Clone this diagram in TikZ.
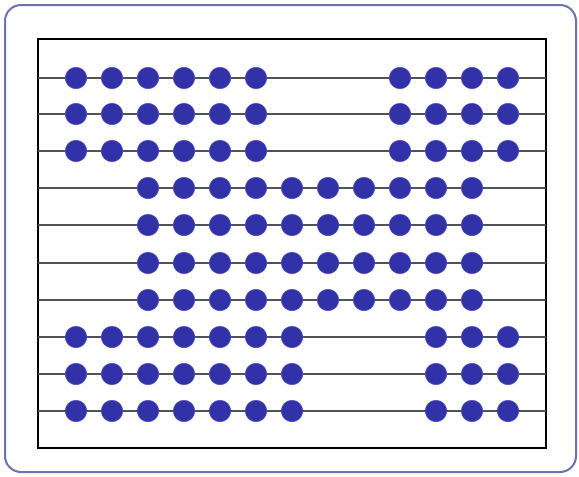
\documentclass[tikz,border=0pt]{standalone}
\definecolor{bead}{HTML}{3232A8}
\definecolor{frameblue}{HTML}{6A72B4}
\definecolor{wire}{HTML}{505058}
\tikzset{
  beadnode/.style={circle,fill=bead,draw=bead!85!white,line width=0.6pt,minimum size=21.5pt,inner sep=0pt},
  wireline/.style={draw=wire,line width=1.2pt},
  outerframe/.style={draw=frameblue,line width=2pt,rounded corners=16pt},
  innerframe/.style={draw=black,line width=1.6pt}
}
\begin{document}
\begin{tikzpicture}[x=1pt,y=-1pt]
\useasboundingbox (0,0) rectangle (579,477);
\fill[white] (0,0) rectangle (579,477);
\draw[outerframe] (5,5) rectangle (576,472);
\draw[innerframe] (38,39) rectangle (546,448);
% wires
\foreach \r/\yy in {1/78,2/114,3/151,4/188,5/225,6/263,7/300,8/337,9/374,10/411}{
  \coordinate (wl\r) at (38,\yy);
  \coordinate (wr\r) at (546,\yy);
  \draw[wireline] (wl\r) -- (wr\r);
}
% rows 1-3
\foreach \r/\yy in {1/78,2/114,3/151}{
  \foreach \i in {0,...,5,9,10,11,12}{
    \node[beadnode] (b\r-\i) at ({76+36*\i},\yy) {};
  }
}
% rows 4-7
\foreach \r/\yy in {4/188,5/225,6/263,7/300}{
  \foreach \i in {2,...,11}{
    \node[beadnode] (b\r-\i) at ({76+36*\i},\yy) {};
  }
}
% rows 8-10
\foreach \r/\yy in {8/337,9/374,10/411}{
  \foreach \i in {0,...,6,10,11,12}{
    \node[beadnode] (b\r-\i) at ({76+36*\i},\yy) {};
  }
}
\end{tikzpicture}
\end{document}
